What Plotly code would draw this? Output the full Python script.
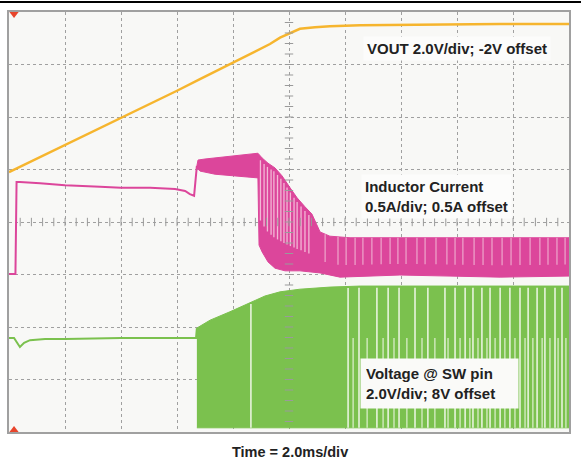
import numpy as np
import plotly.graph_objects as go

# ---- data (time in ms, level in screen divisions; 2 ms/div, 8 vertical divs) ----
vout_t = [0, 0.39, 2.0, 4.0, 6.0, 6.82, 8.0, 8.96, 9.32, 9.68, 10.04, 10.39, 10.93, 11.46, 12.54, 14.68, 17.54, 20.0]
vout_d = [4.95, 5.05, 5.47, 5.98, 6.50, 6.72, 7.03, 7.29, 7.39, 7.51, 7.60, 7.68, 7.71, 7.73, 7.75, 7.76, 7.77, 7.77]

il_pre_t = [0, 0.23, 0.27, 0.39, 1.11, 2.0, 3.25, 4.0, 5.04, 5.93, 6.29, 6.46, 6.61, 6.68, 6.71]
il_pre_d = [3.01, 3.01, 4.76, 4.76, 4.74, 4.70, 4.67, 4.65, 4.65, 4.63, 4.59, 4.53, 4.50, 4.84, 5.07]

il_up_t = [6.71, 6.75, 7.0, 7.36, 7.89, 8.43, 8.89, 9.04, 9.25, 9.5, 9.75, 10.04, 10.29, 10.57, 10.82, 11.11, 11.46, 12.18, 15.75, 20.0]
il_up_d = [5.07, 5.18, 5.20, 5.22, 5.24, 5.28, 5.31, 5.22, 5.12, 5.03, 4.88, 4.65, 4.46, 4.29, 4.15, 3.81, 3.73, 3.70, 3.70, 3.70]
il_lo_t = [6.71, 6.82, 7.36, 7.89, 8.43, 8.89, 8.93, 9.04, 9.25, 9.5, 9.86, 10.39, 11.11, 11.82, 13.96, 15.75, 17.54, 20.0]
il_lo_d = [5.03, 4.97, 4.91, 4.88, 4.86, 4.84, 3.56, 3.43, 3.24, 3.12, 3.07, 3.07, 3.03, 2.95, 2.99, 2.97, 2.95, 2.97]
il_gaps_a = [8.98, 9.11, 9.23, 9.36, 9.46, 9.59, 9.71, 9.82, 9.93, 10.05, 10.18, 10.29, 10.43, 10.57, 10.71]
il_gaps_b = [11.29, 11.75, 12.04, 12.36, 12.64, 12.96, 13.29, 13.61, 13.89, 14.18, 14.57, 14.86, 15.25,
             15.64, 15.93, 16.21, 16.61, 16.93, 17.25, 17.61, 17.93, 18.25, 18.61, 18.96, 19.25, 19.57, 19.86]

sw_pre_t = [0, 0.18, 0.29, 0.39, 0.54, 0.75, 1.29, 2.0, 4.0, 6.68, 6.71]
sw_pre_d = [1.79, 1.79, 1.70, 1.62, 1.70, 1.75, 1.77, 1.77, 1.79, 1.79, 1.98]
sw_up_t = [6.71, 7.18, 7.89, 8.61, 9.14, 9.68, 10.39, 11.46, 12.54, 20.0]
sw_up_d = [1.98, 2.13, 2.29, 2.46, 2.59, 2.67, 2.72, 2.76, 2.78, 2.78]
sw_low = 0.08
sw_gaps_full = [8.64, 12.11, 12.5, 13.14, 13.54, 13.93, 14.5, 14.96, 15.57, 15.93, 16.29, 16.57, 16.89,
                17.18, 17.54, 17.89, 18.25, 18.54, 18.86, 19.14, 19.5, 19.75]
sw_gaps_part = [12.29, 12.79, 13.36, 13.75, 14.21, 14.75, 15.21, 15.68, 16.11, 16.46, 16.75, 17.07, 17.36,
                17.71, 18.07, 18.43, 18.71, 19.04, 19.32, 19.61, 19.89]
sw_part_top = 1.79

gnd_markers = {"vout": 4.95, "il": 3.01, "sw": 0.13}

ORANGE = "#f6b52e"
PINK = "#dc469b"
GREEN = "#7bc14e"
FONT = "Liberation Sans, Arial, sans-serif"

fig = go.Figure()


def segs(xs, ytop, ybot):
    X, Y = [], []
    for x, a, b in zip(xs, ytop, ybot):
        X += [x, x, None]
        Y += [a, b, None]
    return X, Y


# green switching node
fig.add_trace(go.Scatter(x=sw_pre_t, y=sw_pre_d, mode="lines", line=dict(color=GREEN, width=2)))
fig.add_trace(go.Scatter(x=sw_up_t + [sw_up_t[-1], sw_up_t[0]], y=sw_up_d + [sw_low, sw_low],
                         mode="lines", fill="toself", fillcolor=GREEN, line=dict(color=GREEN, width=1)))
gt = np.interp(sw_gaps_full, sw_up_t, sw_up_d) - 0.03
X, Y = segs(sw_gaps_full, gt, [sw_low] * len(sw_gaps_full))
fig.add_trace(go.Scatter(x=X, y=Y, mode="lines", line=dict(color="#eef6e6", width=1.5)))
X, Y = segs(sw_gaps_part, [sw_part_top] * len(sw_gaps_part), [sw_low] * len(sw_gaps_part))
fig.add_trace(go.Scatter(x=X, y=Y, mode="lines", line=dict(color="#d9edc8", width=1.3)))

# pink inductor current
fig.add_trace(go.Scatter(x=il_up_t + il_lo_t[::-1], y=il_up_d + il_lo_d[::-1], mode="lines",
                         fill="toself", fillcolor=PINK, line=dict(color=PINK, width=1)))
ua = np.interp(il_gaps_a, il_up_t, il_up_d)
la = np.interp(il_gaps_a, il_lo_t, il_lo_d)
X, Y = segs(il_gaps_a, ua - 0.08, la + 0.3 * (ua - la))
fig.add_trace(go.Scatter(x=X, y=Y, mode="lines", line=dict(color="#f3b8d6", width=1.3)))
ub = np.interp(il_gaps_b, il_up_t, il_up_d)
lb = np.interp(il_gaps_b, il_lo_t, il_lo_d)
X, Y = segs(il_gaps_b, ub, lb + 0.3 * (ub - lb))
fig.add_trace(go.Scatter(x=X, y=Y, mode="lines", line=dict(color="#eea7cc", width=1.2)))
fig.add_trace(go.Scatter(x=il_pre_t, y=il_pre_d, mode="lines", line=dict(color=PINK, width=2)))

# orange VOUT
fig.add_trace(go.Scatter(x=vout_t, y=vout_d, mode="lines", line=dict(color=ORANGE, width=2.5)))

# centre-line minor ticks
tx = [round(0.4 * i, 2) for i in range(1, 50)]
fig.add_trace(go.Scatter(x=tx, y=[4] * len(tx), mode="markers",
                         marker=dict(symbol="line-ns", size=6, line=dict(color="#9a9a9a", width=1))))
ty = [round(0.2 * i, 2) for i in range(1, 40)]
fig.add_trace(go.Scatter(x=[10] * len(ty), y=ty, mode="markers",
                         marker=dict(symbol="line-ew", size=6, line=dict(color="#9a9a9a", width=1))))

# trigger markers
fig.add_trace(go.Scatter(x=[0.18], y=[8], mode="markers",
                         marker=dict(symbol="triangle-down", size=12, color="#e8452c")))
fig.add_trace(go.Scatter(x=[0.18], y=[0], mode="markers",
                         marker=dict(symbol="triangle-up", size=12, color="#e8452c")))
# channel ground markers
fig.add_trace(go.Scatter(x=[20.29] * 3, y=list(gnd_markers.values()), mode="markers", cliponaxis=False,
                         marker=dict(symbol="arrow-down", size=8, color=[ORANGE, PINK, GREEN])))

fig.update_layout(
    width=581, height=460, autosize=False,
    margin=dict(l=9, r=12, t=12, b=28, pad=0),
    paper_bgcolor="white", plot_bgcolor="#f8f8f6",
    showlegend=False, hovermode=False,
    font=dict(family=FONT, color="#222222"),
)
axis_common = dict(showgrid=True, griddash="dot", gridcolor="#a0a0a0", gridwidth=1,
                   showticklabels=False, ticks="", zeroline=False,
                   showline=True, linecolor="#a0a0a0", linewidth=1.5, mirror=True, fixedrange=True)
fig.update_xaxes(range=[0, 20], dtick=2, **axis_common)
fig.update_yaxes(range=[0, 8], dtick=1, **axis_common)

fig.add_shape(type="line", xref="paper", yref="paper", x0=-0.0161, x1=1.0214, y0=1.0238, y1=1.0238,
              line=dict(color="black", width=2))

fig.add_annotation(x=12.64, y=7.31, xref="x", yref="y", xanchor="left", yanchor="middle",
                   text="<b>VOUT 2.0V/div; -2V offset</b>", showarrow=False, align="left",
                   font=dict(size=15, family=FONT, color="#222"), bgcolor="#fcfcfb", borderpad=3)
fig.add_annotation(x=12.57, y=4.48, xref="x", yref="y", xanchor="left", yanchor="middle",
                   text="<b>Inductor Current<br>0.5A/div; 0.5A offset</b>", showarrow=False, align="left",
                   font=dict(size=15, family=FONT, color="#222"), bgcolor="#fcfcfb", borderpad=3)
fig.add_annotation(x=12.54, y=0.924, xref="x", yref="y", xanchor="left", yanchor="middle",
                   text="<b>Voltage @ SW pin<br>2.0V/div; 8V offset</b>", showarrow=False, align="left",
                   width=147, height=39,
                   font=dict(size=15, family=FONT, color="#222"), bgcolor="#fafaf8", borderpad=5)
fig.add_annotation(x=0.502, y=-0.0476, xref="paper", yref="paper", xanchor="center", yanchor="middle",
                   text="<b>Time = 2.0ms/div</b>", showarrow=False,
                   font=dict(size=14.5, family=FONT, color="#222"))

fig.write_html("out.html", config={"displayModeBar": False},
               post_script="document.body.style.margin='0';document.body.style.padding='0';")
